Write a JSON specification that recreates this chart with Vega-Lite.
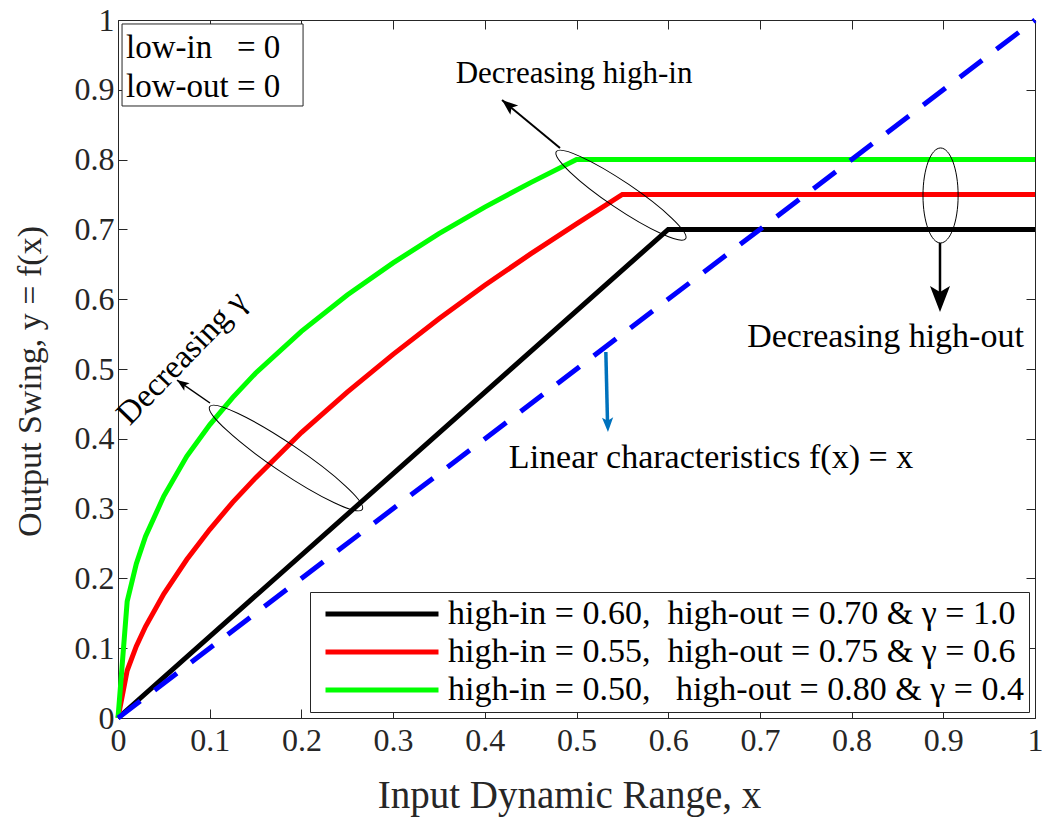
{
  "$schema": "https://vega.github.io/schema/vega-lite/v6.json",
  "width": 917,
  "height": 698,
  "autosize": {"type": "none"},
  "padding": {"left": 118, "top": 20, "right": 7, "bottom": 100},
  "background": "white",
  "config": {
    "view": {"stroke": null},
    "axis": {"labelFont": "Liberation Serif", "labelFontSize": 32, "labelColor": "#262626"},
    "legend": {
      "orient": "bottom-right",
      "offset": 6,
      "symbolType": "M-4,0 L4,0",
      "symbolSize": 798,
      "symbolStrokeWidth": 5,
      "symbolOffset": 50,
      "labelFont": "Liberation Serif",
      "labelFontSize": 34,
      "labelColor": "#000000",
      "labelLimit": 0,
      "labelOffset": 49,
      "strokeColor": "#262626",
      "fillColor": "white",
      "padding": 5,
      "rowPadding": 4
    }
  },
  "datasets": {
    "curves": [
      {"series": "high-in = 0.60,\u00a0\u00a0high-out = 0.70 & γ = 1.0", "x": 0, "y": 0},
      {"series": "high-in = 0.60,\u00a0\u00a0high-out = 0.70 & γ = 1.0", "x": 0.6, "y": 0.7},
      {"series": "high-in = 0.60,\u00a0\u00a0high-out = 0.70 & γ = 1.0", "x": 1, "y": 0.7},
      {"series": "high-in = 0.55,\u00a0\u00a0high-out = 0.75 & γ = 0.6", "x": 0, "y": 0},
      {"series": "high-in = 0.55,\u00a0\u00a0high-out = 0.75 & γ = 0.6", "x": 0.01, "y": 0.068},
      {"series": "high-in = 0.55,\u00a0\u00a0high-out = 0.75 & γ = 0.6", "x": 0.02, "y": 0.103},
      {"series": "high-in = 0.55,\u00a0\u00a0high-out = 0.75 & γ = 0.6", "x": 0.03, "y": 0.131},
      {"series": "high-in = 0.55,\u00a0\u00a0high-out = 0.75 & γ = 0.6", "x": 0.05, "y": 0.178},
      {"series": "high-in = 0.55,\u00a0\u00a0high-out = 0.75 & γ = 0.6", "x": 0.075, "y": 0.227},
      {"series": "high-in = 0.55,\u00a0\u00a0high-out = 0.75 & γ = 0.6", "x": 0.1, "y": 0.27},
      {"series": "high-in = 0.55,\u00a0\u00a0high-out = 0.75 & γ = 0.6", "x": 0.125, "y": 0.309},
      {"series": "high-in = 0.55,\u00a0\u00a0high-out = 0.75 & γ = 0.6", "x": 0.15, "y": 0.344},
      {"series": "high-in = 0.55,\u00a0\u00a0high-out = 0.75 & γ = 0.6", "x": 0.2, "y": 0.409},
      {"series": "high-in = 0.55,\u00a0\u00a0high-out = 0.75 & γ = 0.6", "x": 0.25, "y": 0.467},
      {"series": "high-in = 0.55,\u00a0\u00a0high-out = 0.75 & γ = 0.6", "x": 0.3, "y": 0.521},
      {"series": "high-in = 0.55,\u00a0\u00a0high-out = 0.75 & γ = 0.6", "x": 0.35, "y": 0.572},
      {"series": "high-in = 0.55,\u00a0\u00a0high-out = 0.75 & γ = 0.6", "x": 0.4, "y": 0.62},
      {"series": "high-in = 0.55,\u00a0\u00a0high-out = 0.75 & γ = 0.6", "x": 0.45, "y": 0.665},
      {"series": "high-in = 0.55,\u00a0\u00a0high-out = 0.75 & γ = 0.6", "x": 0.5, "y": 0.708},
      {"series": "high-in = 0.55,\u00a0\u00a0high-out = 0.75 & γ = 0.6", "x": 0.55, "y": 0.75},
      {"series": "high-in = 0.55,\u00a0\u00a0high-out = 0.75 & γ = 0.6", "x": 1, "y": 0.75},
      {"series": "high-in = 0.50,\u00a0\u00a0\u00a0high-out = 0.80 & γ = 0.4", "x": 0, "y": 0},
      {"series": "high-in = 0.50,\u00a0\u00a0\u00a0high-out = 0.80 & γ = 0.4", "x": 0.01, "y": 0.167},
      {"series": "high-in = 0.50,\u00a0\u00a0\u00a0high-out = 0.80 & γ = 0.4", "x": 0.02, "y": 0.221},
      {"series": "high-in = 0.50,\u00a0\u00a0\u00a0high-out = 0.80 & γ = 0.4", "x": 0.03, "y": 0.26},
      {"series": "high-in = 0.50,\u00a0\u00a0\u00a0high-out = 0.80 & γ = 0.4", "x": 0.05, "y": 0.318},
      {"series": "high-in = 0.50,\u00a0\u00a0\u00a0high-out = 0.80 & γ = 0.4", "x": 0.075, "y": 0.375},
      {"series": "high-in = 0.50,\u00a0\u00a0\u00a0high-out = 0.80 & γ = 0.4", "x": 0.1, "y": 0.42},
      {"series": "high-in = 0.50,\u00a0\u00a0\u00a0high-out = 0.80 & γ = 0.4", "x": 0.125, "y": 0.459},
      {"series": "high-in = 0.50,\u00a0\u00a0\u00a0high-out = 0.80 & γ = 0.4", "x": 0.15, "y": 0.494},
      {"series": "high-in = 0.50,\u00a0\u00a0\u00a0high-out = 0.80 & γ = 0.4", "x": 0.2, "y": 0.554},
      {"series": "high-in = 0.50,\u00a0\u00a0\u00a0high-out = 0.80 & γ = 0.4", "x": 0.25, "y": 0.606},
      {"series": "high-in = 0.50,\u00a0\u00a0\u00a0high-out = 0.80 & γ = 0.4", "x": 0.3, "y": 0.652},
      {"series": "high-in = 0.50,\u00a0\u00a0\u00a0high-out = 0.80 & γ = 0.4", "x": 0.35, "y": 0.694},
      {"series": "high-in = 0.50,\u00a0\u00a0\u00a0high-out = 0.80 & γ = 0.4", "x": 0.4, "y": 0.732},
      {"series": "high-in = 0.50,\u00a0\u00a0\u00a0high-out = 0.80 & γ = 0.4", "x": 0.45, "y": 0.767},
      {"series": "high-in = 0.50,\u00a0\u00a0\u00a0high-out = 0.80 & γ = 0.4", "x": 0.5, "y": 0.8},
      {"series": "high-in = 0.50,\u00a0\u00a0\u00a0high-out = 0.80 & γ = 0.4", "x": 1, "y": 0.8}
    ],
    "linear": [{"x": 0, "y": 0}, {"x": 1, "y": 1}]
  },
  "resolve": {"axis": {"x": "independent", "y": "independent"}},
  "layer": [
    {
      "data": {"values": [{"x0": 0.0044, "x1": 0.2018, "y0": 0.8768, "y1": 0.9943}]},
      "mark": {"type": "rect", "fill": "white", "stroke": "#262626", "strokeWidth": 1},
      "encoding": {
        "x": {"field": "x0", "type": "quantitative", "scale": {"domain": [0, 1], "nice": false, "zero": false},
          "axis": {"values": [0, 0.1, 0.2, 0.3, 0.4, 0.5, 0.6, 0.7, 0.8, 0.9, 1], "format": "~g", "grid": false, "labelFlush": false,
            "domainColor": "#262626", "tickColor": "#262626", "tickSize": -9, "labelPadding": 16,
            "labelFont": "Liberation Serif", "labelFontSize": 32, "labelColor": "#262626",
            "title": "Input Dynamic Range, x", "titleFont": "Liberation Serif", "titleFontSize": 39, "titleFontWeight": "normal", "titleColor": "#262626",
            "titleX": 451, "titleY": 89, "titleBaseline": "alphabetic"}},
        "x2": {"field": "x1"},
        "y": {"field": "y0", "type": "quantitative", "scale": {"domain": [0, 1], "nice": false, "zero": false},
          "axis": {"values": [0, 0.1, 0.2, 0.3, 0.4, 0.5, 0.6, 0.7, 0.8, 0.9, 1], "format": "~g", "grid": false, "labelFlush": false,
            "domainColor": "#262626", "tickColor": "#262626", "tickSize": -9, "labelPadding": 13,
            "labelFont": "Liberation Serif", "labelFontSize": 32, "labelColor": "#262626",
            "title": "Output Swing, y = f(x)", "titleFont": "Liberation Serif", "titleFontSize": 34, "titleFontWeight": "normal", "titleColor": "#262626",
            "titleX": -78, "titleY": 361, "titleBaseline": "alphabetic"}},
        "y2": {"field": "y1"}
      }
    },
    {
      "data": {"name": "curves"},
      "mark": {"type": "line", "strokeWidth": 5},
      "encoding": {
        "x": {"field": "x", "type": "quantitative",
          "axis": {"orient": "top", "values": [0, 0.1, 0.2, 0.3, 0.4, 0.5, 0.6, 0.7, 0.8, 0.9, 1], "labels": false, "title": null, "grid": false, "domainColor": "#262626", "tickColor": "#262626", "tickSize": -9}},
        "y": {"field": "y", "type": "quantitative",
          "axis": {"orient": "right", "values": [0, 0.1, 0.2, 0.3, 0.4, 0.5, 0.6, 0.7, 0.8, 0.9, 1], "labels": false, "title": null, "grid": false, "domainColor": "#262626", "tickColor": "#262626", "tickSize": -9}},
        "color": {
          "field": "series",
          "type": "nominal",
          "scale": {
            "domain": [
              "high-in = 0.60,\u00a0\u00a0high-out = 0.70 & γ = 1.0",
              "high-in = 0.55,\u00a0\u00a0high-out = 0.75 & γ = 0.6",
              "high-in = 0.50,\u00a0\u00a0\u00a0high-out = 0.80 & γ = 0.4"
            ],
            "range": ["#000000", "#ff0000", "#00ff00"]
          },
          "legend": {"title": null}
        }
      }
    },
    {
      "data": {"name": "linear"},
      "mark": {"type": "line", "strokeWidth": 5, "color": "#0000ff", "strokeDash": [28, 18]},
      "encoding": {
        "x": {"field": "x", "type": "quantitative", "axis": null},
        "y": {"field": "y", "type": "quantitative", "axis": null}
      }
    },
    {
      "data": {"values": [{"x": 0.5485, "y": 0.749}]},
      "mark": {"type": "point", "shape": "M-1,0 A1,0.17 0 1,1 1,0 A1,0.17 0 1,1 -1,0 Z", "angle": 34, "size": 24336, "filled": false, "color": "#000000", "strokeWidth": 1, "opacity": 1},
      "encoding": {
        "x": {"field": "x", "type": "quantitative", "axis": null},
        "y": {"field": "y", "type": "quantitative", "axis": null}
      }
    },
    {
      "data": {"values": [{"x": 0.1832, "y": 0.3725}]},
      "mark": {"type": "point", "shape": "M-1,0 A1,0.155 0 1,1 1,0 A1,0.155 0 1,1 -1,0 Z", "angle": 34, "size": 33856, "filled": false, "color": "#000000", "strokeWidth": 1, "opacity": 1},
      "encoding": {
        "x": {"field": "x", "type": "quantitative", "axis": null},
        "y": {"field": "y", "type": "quantitative", "axis": null}
      }
    },
    {
      "data": {"values": [{"x": 0.897, "y": 0.7486}]},
      "mark": {"type": "point", "shape": "M-1,0 A1,0.37 0 1,1 1,0 A1,0.37 0 1,1 -1,0 Z", "angle": 90, "size": 9025, "filled": false, "color": "#000000", "strokeWidth": 1, "opacity": 1},
      "encoding": {
        "x": {"field": "x", "type": "quantitative", "axis": null},
        "y": {"field": "y", "type": "quantitative", "axis": null}
      }
    },
    {
      "data": {"values": [{"x": 0.482, "y": 0.8166, "x2": 0.4188, "y2": 0.8854}]},
      "mark": {"type": "rule", "color": "#000000", "strokeWidth": 2},
      "encoding": {
        "x": {"field": "x", "type": "quantitative", "axis": null},
        "y": {"field": "y", "type": "quantitative", "axis": null},
        "x2": {"field": "x2"},
        "y2": {"field": "y2"}
      }
    },
    {
      "data": {"values": [{"x": 0.4188, "y": 0.8854}]},
      "mark": {"type": "point", "shape": "M0,0 L0.5,1.3 L0,1 L-0.5,1.3 Z", "angle": 309.6, "size": 600, "filled": true, "color": "#000000", "opacity": 1},
      "encoding": {
        "x": {"field": "x", "type": "quantitative", "axis": null},
        "y": {"field": "y", "type": "quantitative", "axis": null}
      }
    },
    {
      "data": {"values": [{"x": 0.1003, "y": 0.4513, "x2": 0.0643, "y2": 0.4842}]},
      "mark": {"type": "rule", "color": "#000000", "strokeWidth": 1.5},
      "encoding": {
        "x": {"field": "x", "type": "quantitative", "axis": null},
        "y": {"field": "y", "type": "quantitative", "axis": null},
        "x2": {"field": "x2"},
        "y2": {"field": "y2"}
      }
    },
    {
      "data": {"values": [{"x": 0.0643, "y": 0.4842}]},
      "mark": {"type": "point", "shape": "M0,0 L0.5,1.3 L0,1 L-0.5,1.3 Z", "angle": 304.9, "size": 350, "filled": true, "color": "#000000", "opacity": 1},
      "encoding": {
        "x": {"field": "x", "type": "quantitative", "axis": null},
        "y": {"field": "y", "type": "quantitative", "axis": null}
      }
    },
    {
      "data": {"values": [{"x": 0.8964, "y": 0.6805, "x2": 0.8964, "y2": 0.6}]},
      "mark": {"type": "rule", "color": "#000000", "strokeWidth": 2.5},
      "encoding": {
        "x": {"field": "x", "type": "quantitative", "axis": null},
        "y": {"field": "y", "type": "quantitative", "axis": null},
        "x2": {"field": "x2"},
        "y2": {"field": "y2"}
      }
    },
    {
      "data": {"values": [{"x": 0.8964, "y": 0.5817}]},
      "mark": {"type": "point", "shape": "M0,0 L0.5,1.3 L0,1 L-0.5,1.3 Z", "angle": 180, "size": 1600, "filled": true, "color": "#000000", "opacity": 1},
      "encoding": {
        "x": {"field": "x", "type": "quantitative", "axis": null},
        "y": {"field": "y", "type": "quantitative", "axis": null}
      }
    },
    {
      "data": {"values": [{"x": 0.532, "y": 0.5244, "x2": 0.5338, "y2": 0.425}]},
      "mark": {"type": "rule", "color": "#0072BD", "strokeWidth": 3.5},
      "encoding": {
        "x": {"field": "x", "type": "quantitative", "axis": null},
        "y": {"field": "y", "type": "quantitative", "axis": null},
        "x2": {"field": "x2"},
        "y2": {"field": "y2"}
      }
    },
    {
      "data": {"values": [{"x": 0.5343, "y": 0.4097}]},
      "mark": {"type": "point", "shape": "M0,0 L0.5,1.3 L0,1 L-0.5,1.3 Z", "angle": 178.6, "size": 500, "filled": true, "color": "#0072BD", "opacity": 1},
      "encoding": {
        "x": {"field": "x", "type": "quantitative", "axis": null},
        "y": {"field": "y", "type": "quantitative", "axis": null}
      }
    },
    {
      "data": {"values": [{"x": 0.4973, "y": 0.9097, "text": "Decreasing high-in"}]},
      "mark": {"type": "text", "font": "Liberation Serif", "fontSize": 31, "color": "#000000", "align": "center", "baseline": "alphabetic"},
      "encoding": {
        "x": {"field": "x", "type": "quantitative", "axis": null},
        "y": {"field": "y", "type": "quantitative", "axis": null},
        "text": {"field": "text"}
      }
    },
    {
      "data": {"values": [
        {"x": 0.837, "y": 0.5315, "text": "Decreasing high-out"},
        {"x": 0.6467, "y": 0.3582, "text": "Linear characteristics f(x) = x"}
      ]},
      "mark": {"type": "text", "font": "Liberation Serif", "fontSize": 34, "color": "#000000", "align": "center", "baseline": "alphabetic"},
      "encoding": {
        "x": {"field": "x", "type": "quantitative", "axis": null},
        "y": {"field": "y", "type": "quantitative", "axis": null},
        "text": {"field": "text"}
      }
    },
    {
      "data": {"values": [{"x": 0.0698, "y": 0.5158, "text": "Decreasing γ"}]},
      "mark": {"type": "text", "font": "Liberation Serif", "fontSize": 33, "color": "#000000", "align": "center", "baseline": "middle", "angle": 314},
      "encoding": {
        "x": {"field": "x", "type": "quantitative", "axis": null},
        "y": {"field": "y", "type": "quantitative", "axis": null},
        "text": {"field": "text"}
      }
    },
    {
      "data": {"values": [
        {"x": 0.0087, "y": 0.9456, "text": "low-in\u00a0\u00a0\u00a0= 0"},
        {"x": 0.0087, "y": 0.8897, "text": "low-out = 0"}
      ]},
      "mark": {"type": "text", "font": "Liberation Serif", "fontSize": 33, "color": "#000000", "align": "left", "baseline": "alphabetic"},
      "encoding": {
        "x": {"field": "x", "type": "quantitative", "axis": null},
        "y": {"field": "y", "type": "quantitative", "axis": null},
        "text": {"field": "text"}
      }
    }
  ]
}
